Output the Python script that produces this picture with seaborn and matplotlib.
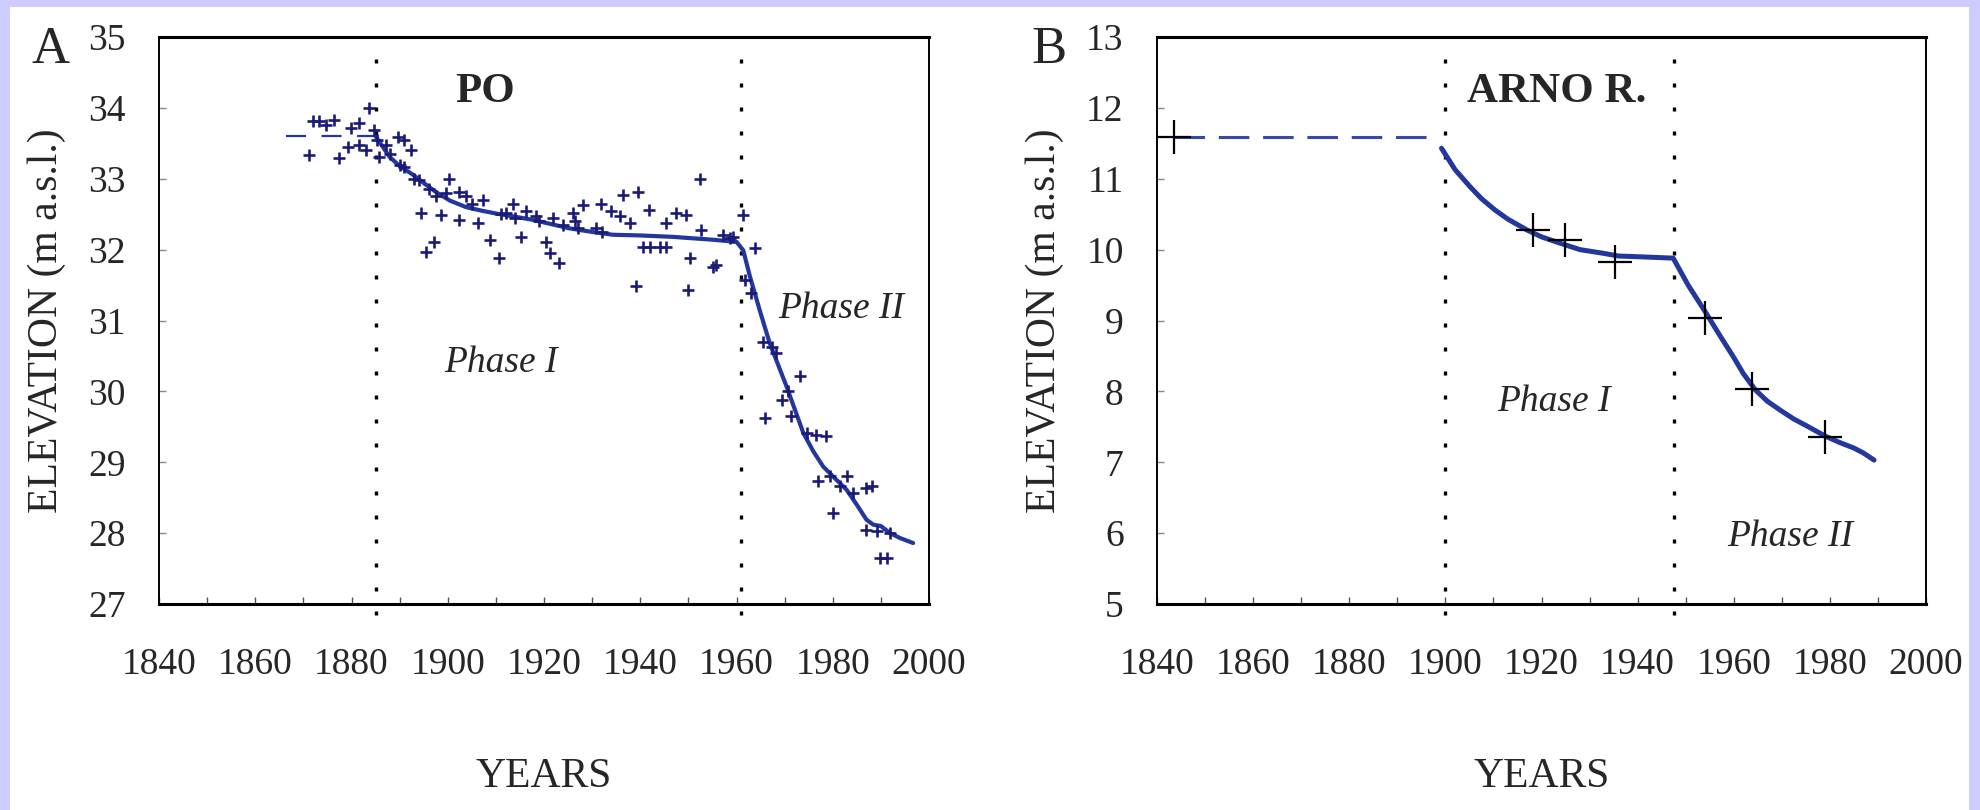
import numpy as np
import pandas as pd
import seaborn as sns
import matplotlib.pyplot as plt
from matplotlib.patches import Rectangle
from matplotlib.ticker import MultipleLocator

# Po river: surveyed bed elevations
po_years = [1871.2, 1871.9, 1873.3, 1874.7, 1876.4, 1877.5, 1879.2, 1879.9, 1881.6, 1881.6,
            1883.0, 1883.7, 1884.7, 1885.4, 1885.8, 1887.2, 1888.0, 1889.6, 1890.0, 1891.0,
            1892.4, 1891.0, 1893.0, 1894.1, 1896.0, 1900.3, 1897.6, 1899.6, 1902.4, 1903.8,
            1905.0, 1907.3, 1894.4, 1898.6, 1902.4, 1906.2, 1897.2, 1895.5, 1908.7, 1910.7,
            1911.0, 1913.5, 1914.0, 1915.3, 1916.3, 1918.4, 1919.0, 1920.5, 1921.2, 1923.2,
            1921.8, 1912.1, 1924.0, 1926.0, 1926.5, 1927.0, 1928.1, 1930.9, 1931.9, 1932.0,
            1934.0, 1935.7, 1936.4, 1939.5, 1937.8, 1941.9, 1945.4, 1947.5, 1949.6, 1940.6,
            1942.0, 1944.0, 1945.4, 1939.2, 1950.0, 1950.3, 1952.4, 1952.7, 1955.1, 1955.8,
            1957.2, 1958.6, 1959.3, 1961.4, 1963.8, 1961.7, 1963.1, 1965.5, 1967.3, 1968.3,
            1973.2, 1965.9, 1970.7, 1971.4, 1969.4, 1974.6, 1976.6, 1978.7, 1977.0, 1979.4,
            1982.9, 1980.1, 1981.5, 1984.3, 1987.0, 1988.1, 1987.0, 1989.1, 1991.9, 1989.8,
            1991.2]
po_elev = [33.34, 33.81, 33.81, 33.76, 33.83, 33.29, 33.45, 33.71, 33.78, 33.48,
           33.41, 34.00, 33.69, 33.55, 33.31, 33.48, 33.35, 33.59, 33.20, 33.55,
           33.41, 33.17, 33.00, 32.98, 32.85, 33.00, 32.75, 32.80, 32.82, 32.75,
           32.65, 32.70, 32.51, 32.49, 32.42, 32.37, 32.11, 31.97, 32.14, 31.88,
           32.50, 32.65, 32.45, 32.18, 32.54, 32.47, 32.40, 32.11, 31.95, 31.81,
           32.44, 32.51, 32.35, 32.51, 32.40, 32.30, 32.63, 32.30, 32.65, 32.25,
           32.54, 32.47, 32.77, 32.82, 32.37, 32.56, 32.37, 32.51, 32.49, 32.04,
           32.04, 32.04, 32.04, 31.48, 31.43, 31.88, 33.00, 32.28, 31.76, 31.79,
           32.21, 32.16, 32.18, 32.49, 32.02, 31.57, 31.39, 30.70, 30.63, 30.54,
           30.21, 29.62, 30.00, 29.65, 29.88, 29.41, 29.39, 29.37, 28.73, 28.80,
           28.80, 28.28, 28.66, 28.57, 28.64, 28.66, 28.05, 28.03, 28.00, 27.65,
           27.65]

# Po river: fitted trend
po_dash_years = [1866.4, 1885.0]
po_dash_elev = [33.6, 33.6]
po_fit_years = [1885.0, 1887.9, 1890.0, 1892.7, 1895.0, 1897.6, 1900.5, 1903.8, 1907.0, 1910.0,
                1913.5, 1917.7, 1921.5, 1925.3, 1930.0, 1934.3, 1940.0, 1946.8, 1955.0, 1960.0,
                1961.4, 1962.8, 1964.8, 1966.9, 1970.4, 1973.9, 1976.0, 1978.0, 1980.5, 1982.9,
                1985.0, 1987.0, 1988.4, 1990.0, 1991.9, 1994.0, 1996.7]
po_fit_elev = [33.60, 33.31, 33.18, 33.06, 32.94, 32.81, 32.69, 32.60, 32.55, 32.51,
               32.47, 32.42, 32.36, 32.30, 32.25, 32.21, 32.20, 32.18, 32.14, 32.11,
               31.99, 31.62, 31.15, 30.68, 30.07, 29.41, 29.15, 28.94, 28.77, 28.61,
               28.40, 28.19, 28.12, 28.10, 28.00, 27.93, 27.86]

# Arno river
arno_years = [1843.6, 1918.2, 1924.8, 1935.3, 1954.1, 1963.8, 1978.9]
arno_elev = [11.59, 10.28, 10.14, 9.83, 9.03, 8.04, 7.36]
arno_dash_years = [1843.6, 1898.0]
arno_dash_elev = [11.59, 11.59]
arno_fit_years = [1899.2, 1902.0, 1905.1, 1907.5, 1910.3, 1913.0, 1916.9, 1920.0, 1924.8, 1928.0,
                  1932.7, 1936.0, 1940.0, 1947.4, 1950.5, 1954.1, 1957.0, 1959.9, 1962.0, 1964.5,
                  1967.0, 1970.0, 1972.5, 1975.0, 1979.0, 1982.0, 1985.0, 1987.0, 1989.2]
arno_fit_elev = [11.43, 11.13, 10.89, 10.72, 10.56, 10.43, 10.28, 10.18, 10.07, 10.00,
                 9.95, 9.91, 9.90, 9.88, 9.50, 9.12, 8.80, 8.49, 8.25, 8.02,
                 7.86, 7.72, 7.61, 7.52, 7.37, 7.28, 7.20, 7.13, 7.03]

po_phases = [1885, 1961]
arno_phases = [1900, 1947.5]

sns.set_theme(style='white')
plt.rcParams['font.family'] = ['Liberation Serif', 'DejaVu Serif']

fig = plt.figure(figsize=(19.8, 8.1), dpi=100, facecolor='#ccccff')
fig.patches.append(Rectangle((10 / 1980, 0), 1959 / 1980, 803 / 810,
                             transform=fig.transFigure, facecolor='white',
                             edgecolor='none', zorder=-1))

ax_a = fig.add_axes([159 / 1980, 206 / 810, 770 / 1980, 567 / 810])
ax_b = fig.add_axes([1157 / 1980, 206 / 810, 769 / 1980, 567 / 810])

line_blue = '#23379c'
dot_blue = '#1a1a78'

# panel A
sns.scatterplot(x=po_years, y=po_elev, ax=ax_a, marker='+', s=80,
                color=dot_blue, linewidth=1.9, zorder=3)
sns.lineplot(x=po_dash_years, y=po_dash_elev, ax=ax_a, color=line_blue,
             lw=1.6, linestyle=(0, (9, 7)), zorder=2)
sns.lineplot(x=po_fit_years, y=po_fit_elev, ax=ax_a, color=line_blue,
             lw=3.0, zorder=2)
ax_a.set_xlim(1840, 2000)
ax_a.set_ylim(27, 35)

# panel B
sns.lineplot(x=arno_dash_years, y=arno_dash_elev, ax=ax_b, color='#3a46b0',
             lw=2.2, linestyle=(0, (10, 4.5)), zorder=2)
sns.lineplot(x=arno_fit_years, y=arno_fit_elev, ax=ax_b, color=line_blue,
             lw=3.6, zorder=2)
sns.scatterplot(x=arno_years, y=arno_elev, ax=ax_b, marker='+', s=580,
                color='black', linewidth=1.6, zorder=3)
ax_b.set_xlim(1840, 2000)
ax_b.set_ylim(5, 13)

for ax, phases in [(ax_a, po_phases), (ax_b, arno_phases)]:
    for x in phases:
        ax.axvline(x, ymin=-0.02, ymax=0.98, color='black', lw=2.4,
                   linestyle=(0, (1.2, 6.0)), clip_on=False, zorder=1)
    ax.xaxis.set_major_locator(MultipleLocator(20))
    ax.xaxis.set_minor_locator(MultipleLocator(10))
    ax.yaxis.set_major_locator(MultipleLocator(1))
    ax.tick_params(axis='x', which='both', direction='in', bottom=True, top=False,
                   length=5, width=1.0, color='#555555', pad=31, labelsize=27)
    ax.tick_params(axis='y', which='major', direction='in', left=True, right=False,
                   length=5, width=1.0, color='#888888', pad=24, labelsize=27)
    for side in ['top', 'bottom']:
        ax.spines[side].set_linewidth(2.2)
        ax.spines[side].set_color('black')
    for side in ['left', 'right']:
        ax.spines[side].set_linewidth(1.4)
        ax.spines[side].set_color('black')
    ax.set_xlabel('YEARS', fontsize=30, va='top')
    ax.xaxis.set_label_coords(0.5, -0.271)
    ax.set_ylabel('ELEVATION (m a.s.l.)', fontsize=30)
    ax.yaxis.set_label_coords(-0.121, 0.5)

ax_a.text(1907.8, 34.22, 'PO', fontsize=31, fontweight='bold', ha='center', va='center')
ax_a.text(1911, 30.4, 'Phase I', fontsize=27, style='italic', ha='center', va='center')
ax_a.text(1981.8, 31.17, 'Phase II', fontsize=27, style='italic', ha='center', va='center')

ax_b.text(1904.5, 12.22, 'ARNO R.', fontsize=31, fontweight='bold', ha='left', va='center')
ax_b.text(1922.5, 7.85, 'Phase I', fontsize=27, style='italic', ha='center', va='center')
ax_b.text(1971.7, 5.95, 'Phase II', fontsize=27, style='italic', ha='center', va='center')

fig.text(51 / 1980, 1 - 50 / 810, 'A', fontsize=38, ha='center', va='center')
fig.text(1049 / 1980, 1 - 50 / 810, 'B', fontsize=38, ha='center', va='center')

fig.savefig('out.png', dpi=100, facecolor=fig.get_facecolor())
